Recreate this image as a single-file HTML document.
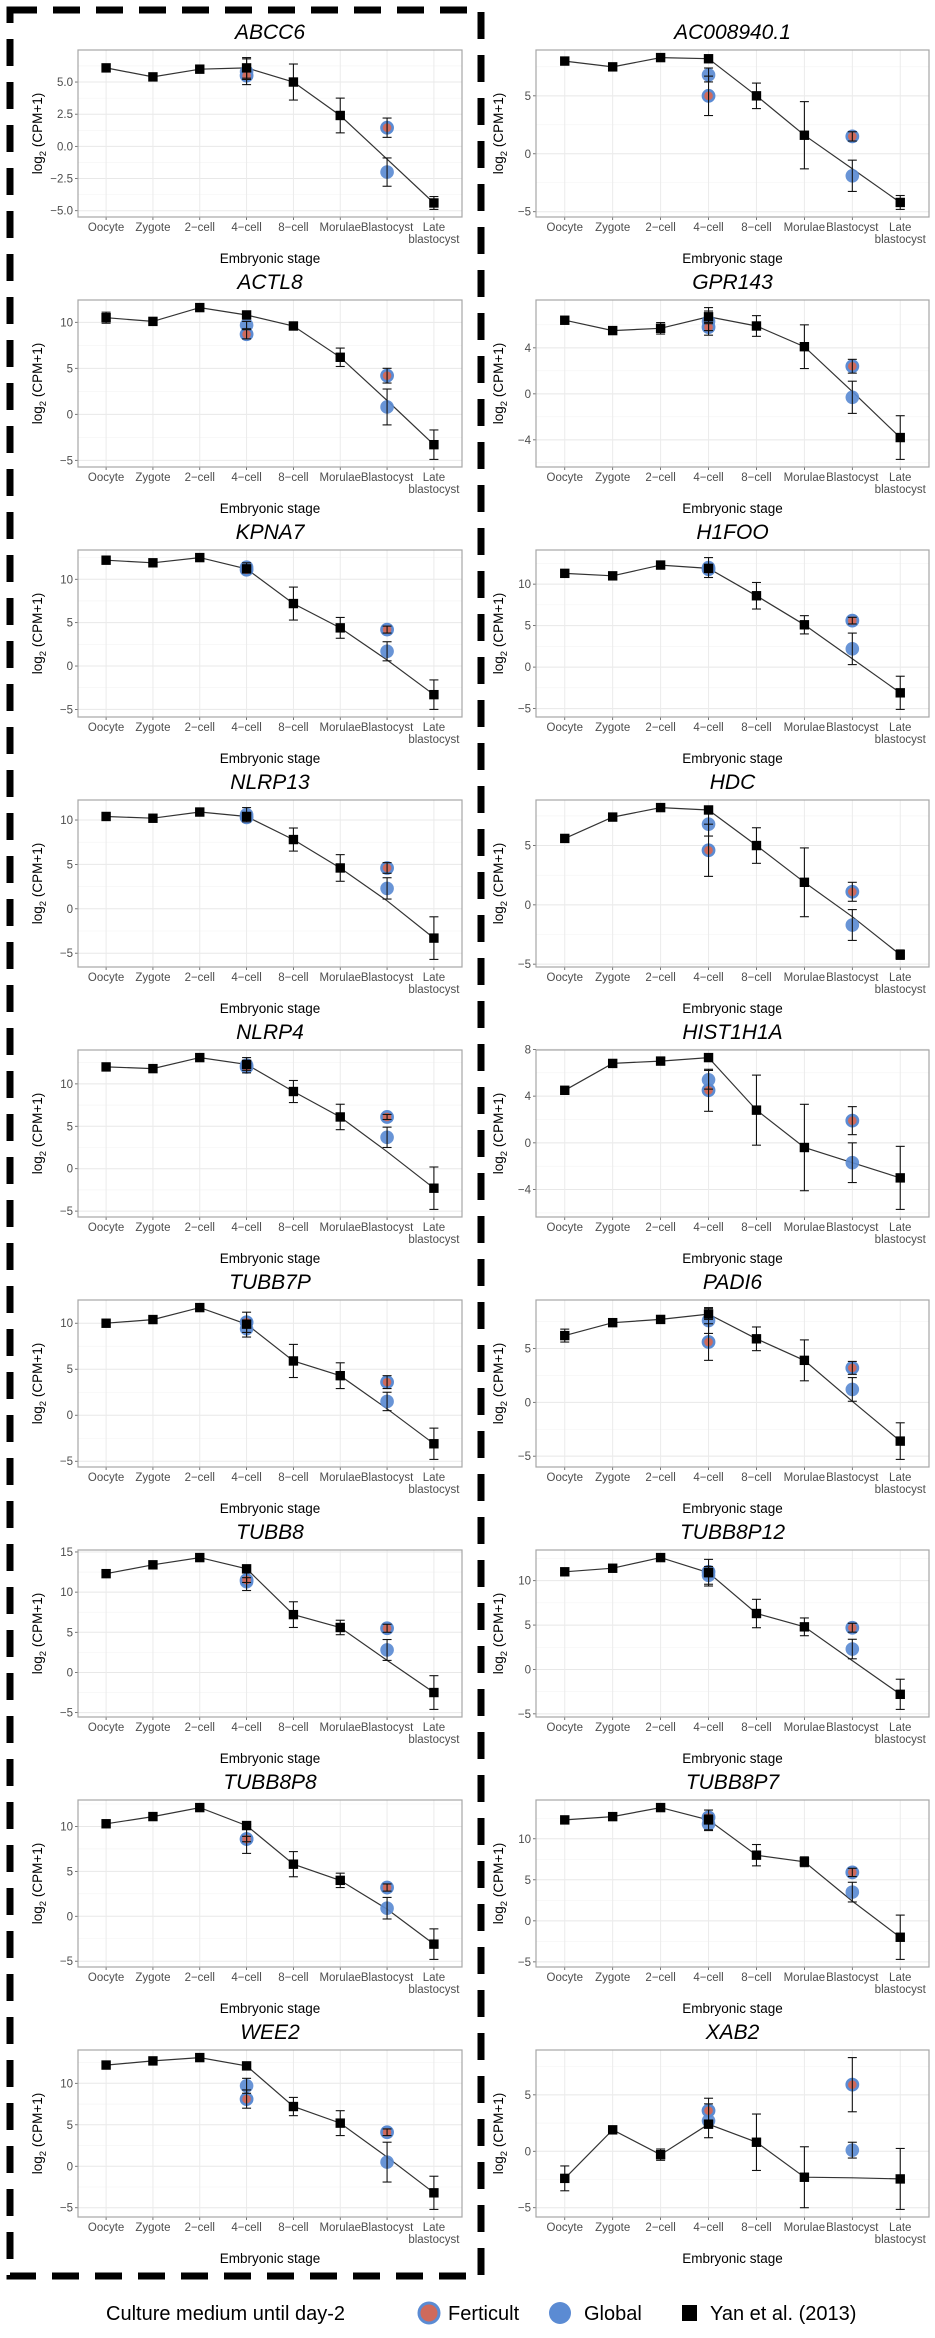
<!DOCTYPE html>
<html><head><meta charset="utf-8">
<style>
html,body{margin:0;padding:0;background:#fff;}
svg{display:block;font-family:"Liberation Sans",Arial,sans-serif;}
</style></head>
<body>
<svg id="fig" width="935" height="2338" viewBox="0 0 935 2338" xmlns="http://www.w3.org/2000/svg">
  <rect x="10" y="10" width="471" height="2266" fill="none" stroke="#000" stroke-width="7" stroke-dasharray="27 16"/>
  <g id="panels"></g>
  <g>
    <text x="106" y="2320" font-size="20" fill="#000">Culture medium until day-2</text>
    <circle cx="429" cy="2313" r="10" fill="#cf6a5c" stroke="#5b8bd3" stroke-width="3"/>
    <text x="448" y="2320" font-size="20">Ferticult</text>
    <circle cx="560" cy="2313" r="11" fill="#5b8bd3"/>
    <text x="584" y="2320" font-size="20">Global</text>
    <rect x="682" y="2305" width="15" height="16" fill="#000"/>
    <text x="710" y="2320" font-size="20">Yan et al. (2013)</text>
  </g>
</svg>
<script>
const stages = ["Oocyte","Zygote","2\u2212cell","4\u2212cell","8\u2212cell","Morulae","Blastocyst","Late"];
const genes = ["ABCC6","AC008940.1","ACTL8","GPR143","KPNA7","H1FOO","NLRP13","HDC","NLRP4","HIST1H1A","TUBB7P","PADI6","TUBB8","TUBB8P12","TUBB8P8","TUBB8P7","WEE2","XAB2"];
const yanValues = [
 [6.1,5.4,6.0,6.1,5.0,2.4,-1.0,-4.4],
 [8.0,7.5,8.3,8.2,5.0,1.6,-1.3,-4.2],
 [10.5,10.1,11.6,10.8,9.6,6.2,1.5,-3.3],
 [6.4,5.5,5.7,6.7,5.9,4.1,0.2,-3.8],
 [12.2,11.9,12.5,11.2,7.2,4.4,0.7,-3.3],
 [11.3,11.0,12.3,11.9,8.6,5.1,1.0,-3.1],
 [10.4,10.2,10.9,10.4,7.8,4.6,0.9,-3.3],
 [5.6,7.4,8.2,8.0,5.0,1.9,-1.0,-4.2],
 [12.0,11.8,13.1,12.3,9.1,6.1,2.0,-2.3],
 [4.5,6.8,7.0,7.3,2.8,-0.4,-1.7,-3.0],
 [10.0,10.4,11.7,9.9,5.9,4.3,0.7,-3.1],
 [6.2,7.4,7.7,8.2,5.9,3.9,0.1,-3.6],
 [12.3,13.4,14.3,12.9,7.2,5.6,1.5,-2.5],
 [11.0,11.4,12.6,10.9,6.3,4.8,1.0,-2.8],
 [10.3,11.1,12.1,10.1,5.8,4.0,0.8,-3.1],
 [12.3,12.7,13.8,12.3,8.0,7.2,2.4,-2.0],
 [12.2,12.7,13.1,12.1,7.2,5.2,1.1,-3.2],
 [-2.4,1.9,-0.3,2.4,0.8,-2.3,-2.35,-2.45]
];
const yanErrors = [
 [0,0,0,0.8,1.4,1.35,0,0.5],
 [0,0,0,0,1.1,2.9,0,0.6],
 [0.6,0,0,0,0,1.0,0,1.6],
 [0,0,0.5,0.5,0.9,1.9,0,1.9],
 [0,0,0,0,1.9,1.2,0,1.7],
 [0,0,0,0,1.6,1.1,0,2.0],
 [0,0,0,0,1.3,1.5,0,2.4],
 [0,0,0,0,1.5,2.9,0,0.4],
 [0,0,0,0,1.3,1.5,0,2.5],
 [0,0.3,0.3,0,3.0,3.7,0,2.7],
 [0,0,0,0,1.8,1.4,0,1.7],
 [0.6,0,0,0.5,1.1,1.9,0,1.7],
 [0,0,0,0,1.6,0.9,0,2.1],
 [0,0,0,1.5,1.6,1.0,0,1.7],
 [0,0,0,0,1.4,0.8,0,1.7],
 [0,0,0,1.2,1.3,0.6,0,2.7],
 [0,0,0,0,1.1,1.5,0,2.0],
 [1.1,0,0.5,0,2.5,2.7,0,2.7]
];
// [4-cell, Blastocyst]
const globalValues = [[5.8,-2.0],[6.8,-1.9],[9.7,0.8],[6.3,-0.3],[11.4,1.7],[12.0,2.2],[10.6,2.3],[6.8,-1.7],[12.2,3.7],[5.4,-1.7],[9.4,1.5],[7.6,1.2],[11.3,2.8],[10.6,2.3],[8.6,0.9],[11.8,3.5],[9.7,0.5],[2.7,0.1]];
const globalErrors = [[1.0,1.1],[0.6,1.35],[0.4,1.95],[1.2,1.4],[0.5,1.1],[1.2,1.9],[0.8,1.2],[1.0,1.3],[0.9,1.2],[0.8,1.7],[0.9,1.0],[1.2,1.1],[1.1,1.3],[1.0,1.1],[1.6,1.2],[0.8,1.2],[0.9,2.4],[1.5,0.7]];
const fertValues = [[5.5,1.45],[5.0,1.5],[8.7,4.2],[5.8,2.4],[11.1,4.2],[11.8,5.6],[10.3,4.6],[4.6,1.1],[12.0,6.1],[4.5,1.9],[10.1,3.6],[5.6,3.2],[11.5,5.5],[11.0,4.7],[8.6,3.2],[12.6,5.9],[8.1,4.1],[3.6,5.9]];
const fertErrors = [[0.3,0.75],[1.7,0.4],[0.5,0.8],[0.3,0.6],[0.3,0.4],[0.4,0.4],[0.3,0.6],[2.2,0.8],[0.4,0.3],[1.8,1.2],[1.1,0.7],[1.7,0.6],[0.3,0.5],[0.4,0.5],[0.3,0.4],[0.3,0.5],[1.1,0.4],[1.1,2.4]];
const tickValues = [[-5,-2.5,0,2.5,5],[-5,0,5],[-5,0,5,10],[-4,0,4],[-5,0,5,10],[-5,0,5,10],[-5,0,5,10],[-5,0,5],[-5,0,5,10],[-4,0,4,8],[-5,0,5,10],[-5,0,5],[-5,0,5,10,15],[-5,0,5,10],[-5,0,5,10],[-5,0,5,10],[-5,0,5,10],[-5,0,5]];
const tickDecimals = [1,0,0,0,0,0,0,0,0,0,0,0,0,0,0,0,0,0];

const NS = "http://www.w3.org/2000/svg";
const root = document.getElementById("panels");
function mk(tag, attrs, parent, txt){
  const e = document.createElementNS(NS, tag);
  for (const k in attrs) e.setAttribute(k, attrs[k]);
  if (txt !== undefined) e.textContent = txt;
  parent.appendChild(e);
  return e;
}
function fmt(v, d){ const s = Math.abs(v).toFixed(d); return (v < 0 ? "\u2212" : "") + s; }

genes.forEach((gene, gi) => {
  const col = gi % 2, row = Math.floor(gi / 2);
  const L = col ? 536 : 78, R = col ? 929 : 462;
  const T = 50 + 250 * row, B = 217 + 250 * row;
  const cx = (L + R) / 2;
  const g = mk("g", {}, root);
  
  

  // y domain from data (ggplot-like 5% expansion)
  const yv = yanValues[gi], ye = yanErrors[gi];
  let lo = Infinity, hi = -Infinity;
  yv.forEach((v, i) => { lo = Math.min(lo, v - ye[i]); hi = Math.max(hi, v + ye[i]); });
  [0, 1].forEach(j => {
    lo = Math.min(lo, globalValues[gi][j] - globalErrors[gi][j], fertValues[gi][j] - fertErrors[gi][j]);
    hi = Math.max(hi, globalValues[gi][j] + globalErrors[gi][j], fertValues[gi][j] + fertErrors[gi][j]);
  });
  const pad = (hi - lo) * 0.05; lo -= pad; hi += pad;
  const yS = v => B - (v - lo) / (hi - lo) * (B - T);
  const step = (R - L) / 8.2;
  const xS = i => L + (i + 0.6) * step;

  const title = mk("text", {x: cx, y: T - 11, "text-anchor": "middle", "font-size": 21, "font-style": "italic", fill: "#000"}, g, gene);
  
  

  const bg = mk("rect", {x: L, y: T, width: R - L, height: B - T, fill: "#fff"}, g);
  
  

  const ticks = tickValues[gi];
  const tstep = ticks[1] - ticks[0];
  // minor grid
  for (let k = ticks[0] - tstep / 2; k <= ticks[ticks.length - 1] + tstep; k += tstep) {
    if (k > lo && k < hi) mk("line", {x1: L, x2: R, y1: yS(k), y2: yS(k), stroke: "#f3f3f3", "stroke-width": 0.6}, g);
  }
  ticks.forEach(t => {
    const y = yS(t);
    const gl = mk("line", {x1: L, x2: R, y1: y, y2: y, stroke: "#e8e8e8", "stroke-width": 1}, g);
    
    
    mk("line", {x1: L - 3, x2: L, y1: y, y2: y, stroke: "#555", "stroke-width": 0.8}, g);
    const tl = mk("text", {x: L - 5, y: y + 4, "text-anchor": "end", "font-size": 11.5, fill: "#4d4d4d"}, g, fmt(t, tickDecimals[gi]));
    
    
  });
  stages.forEach((s, i) => {
    const x = xS(i);
    const vl = mk("line", {x1: x, x2: x, y1: T, y2: B, stroke: "#ebebeb", "stroke-width": 1}, g);
    
    
    mk("line", {x1: x, x2: x, y1: B, y2: B + 3, stroke: "#555", "stroke-width": 0.8}, g);
    const xl = mk("text", {x: x, y: B + 14, "text-anchor": "middle", "font-size": 11.5, fill: "#4d4d4d"}, g, s);
    
    
    if (i === 7) {
      const xl2 = mk("text", {x: x, y: B + 26, "text-anchor": "middle", "font-size": 11.5, fill: "#4d4d4d"}, g, "blastocyst");
      
      
    }
  });

  // Yan line
  const pts = yv.map((v, i) => xS(i).toFixed(1) + "," + yS(v).toFixed(1)).join(" ");
  const ln = mk("polyline", {points: pts, fill: "none", stroke: "#333", "stroke-width": 1.2}, g);
  
  

  function errbar(x, v, e, name){
    if (!e) return;
    const eg = mk("g", {stroke: "#111", "stroke-width": 1.1}, g);
    
    
    mk("line", {x1: x, x2: x, y1: yS(v - e), y2: yS(v + e)}, eg);
    mk("line", {x1: x - 4.5, x2: x + 4.5, y1: yS(v - e), y2: yS(v - e)}, eg);
    mk("line", {x1: x - 4.5, x2: x + 4.5, y1: yS(v + e), y2: yS(v + e)}, eg);
  }
  const cIdx = [3, 6];
  cIdx.forEach((si, j) => {
    const x = xS(si);
    const gc = mk("circle", {cx: x, cy: yS(globalValues[gi][j]), r: 6.8, fill: "#5b8bd3", "fill-opacity": 0.92}, g);
    
    
    const fc = mk("circle", {cx: x, cy: yS(fertValues[gi][j]), r: 5.6, fill: "#cf6a5c", stroke: "#5b8bd3", "stroke-width": 2.6}, g);
    
    
    errbar(x, globalValues[gi][j], globalErrors[gi][j], 'global-error-bar');
    errbar(x, fertValues[gi][j], fertErrors[gi][j], 'ferticult-error-bar');
  });
  yv.forEach((v, i) => {
    errbar(xS(i), v, ye[i], 'yan-error-bar');
    if (i === 6) return;
    const sq = mk("rect", {x: xS(i) - 4.7, y: yS(v) - 4.7, width: 9.4, height: 9.4, fill: "#000"}, g);
    
    
  });

  const border = mk("rect", {x: L, y: T, width: R - L, height: B - T, fill: "none", stroke: "#a6a6a6", "stroke-width": 1.2}, g);
  
  

  const xt = mk("text", {x: cx, y: B + 46, "text-anchor": "middle", "font-size": 13.5, fill: "#000"}, g, "Embryonic stage");
  
  
  const yx = col ? 503 : 42, yy = (T + B) / 2;
  const yt = mk("text", {x: yx, y: yy, "text-anchor": "middle", "font-size": 13.5, fill: "#000", transform: "rotate(-90 " + yx + " " + yy + ")"}, g);
  
  
  mk("tspan", {}, yt, "log");
  mk("tspan", {dy: 4, "font-size": 9.5}, yt, "2");
  mk("tspan", {dy: -4}, yt, " (CPM+1)");
});
</script>
</body></html>
